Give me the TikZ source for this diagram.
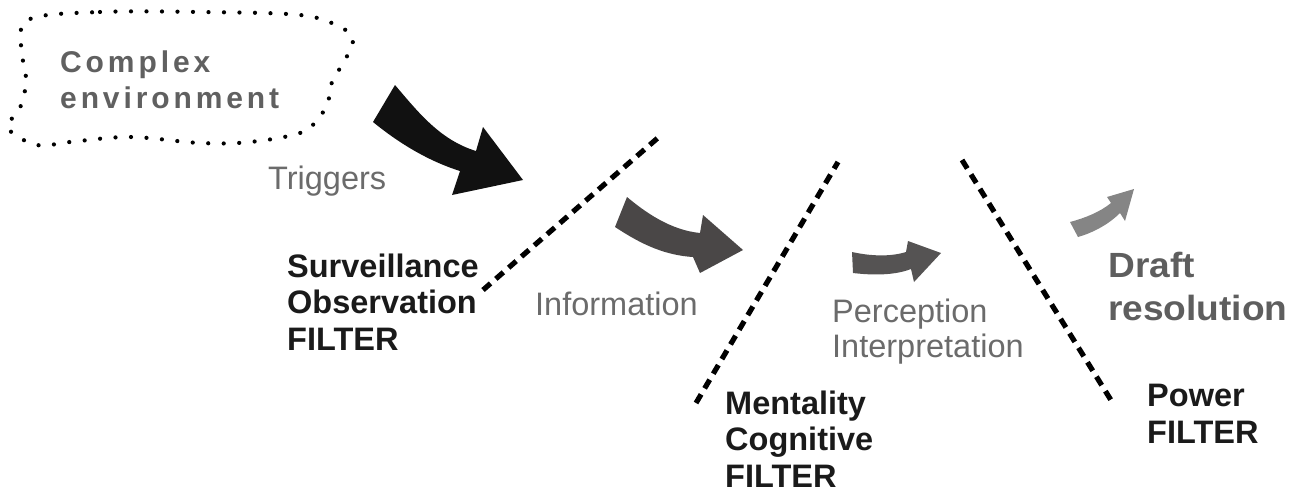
\documentclass[tikz,border=0pt]{standalone}
\usepackage{fontspec}
\setmainfont{Liberation Sans}
\newfontfamily\envfont[LetterSpace=13]{Liberation Sans}
\newfontfamily\draftfont[FakeStretch=1.06]{Liberation Sans}
\definecolor{envgray}{HTML}{606060}
\definecolor{flowgray}{HTML}{6B6B6B}
\definecolor{draftgray}{HTML}{5E5E5E}
\definecolor{filtertext}{HTML}{1A1A1A}
\definecolor{arrowA}{HTML}{111111}
\definecolor{arrowB}{HTML}{4A4747}
\definecolor{arrowC}{HTML}{555353}
\definecolor{arrowD}{HTML}{858585}

\begin{document}
\begin{tikzpicture}[x=1pt,y=-1pt,
  every node/.style={inner sep=0pt,anchor=base west,align=left},
  filterlbl/.style={font=\bfseries\fontsize{32.5}{36.5}\selectfont,text=filtertext},
  flowlbl/.style={font=\fontsize{32.5}{35}\selectfont,text=flowgray},
  filterline/.style={line width=5.2pt,dash pattern=on 10pt off 7pt},
  cloudline/.style={line width=4.2pt,line cap=round,dash pattern=on 0pt off 15.5pt}]
  \useasboundingbox (0,0) rectangle (1297,493);
  % complex environment
  \draw[cloudline] plot[smooth cycle,tension=0.6] coordinates {(30,19) (100,12) (200,12) (300,15) (340,27)
    (353,40) (345,60) (332,82) (328,102) (318,119) (300,133) (250,142) (200,143) (130,137) (70,142)
    (37,145) (8,128) (20,108) (26,80) (21,45)};
  \node[font=\envfont\bfseries\fontsize{30}{36}\selectfont,text=envgray] (env) at (60,108) {Complex\\environment};
  \node[flowlbl] (trig) at (268,189) {Triggers};
  % filters
  \coordinate (f1a) at (483,290); \coordinate (f1b) at (660,136);
  \coordinate (f2a) at (696,403); \coordinate (f2b) at (838,162);
  \coordinate (f3a) at (962,160); \coordinate (f3b) at (1114,405);
  \draw[filterline] (f1a) -- (f1b);
  \draw[filterline] (f2a) -- (f2b);
  \draw[filterline] (f3a) -- (f3b);
  \node[filterlbl] (surv) at (287,350) {Surveillance\\Observation\\FILTER};
  \node[flowlbl] (info) at (535,315) {Information};
  \node[filterlbl] (ment) at (725,487) {Mentality\\Cognitive\\FILTER};
  \node[flowlbl] (perc) at (832,357) {Perception\\Interpretation};
  \node[filterlbl] (power) at (1147,443) {Power\\FILTER};
  \node[font=\draftfont\bfseries\fontsize{35}{43}\selectfont,text=draftgray] (draft) at (1108,320) {Draft\\resolution};
  % block arrows
  \fill[arrowA] (395,85) .. controls (418,112) and (440,140) .. (476,151) -- (483,127) -- (523,180)
    -- (452,195) -- (460,171) .. controls (425,160) and (395,140) .. (373,122) -- cycle;
  \fill[arrowB] (627,197) .. controls (645,212) and (670,230) .. (700,233) -- (703,215) -- (743,250)
    -- (700,273) -- (693,257) .. controls (660,255) and (635,240) .. (615,227) -- cycle;
  \fill[arrowC] (852,252) .. controls (870,256) and (890,257) .. (906,252) -- (908,241) -- (941,253)
    -- (914,282) -- (911,269) .. controls (893,276) and (870,275) .. (853,273) -- cycle;
  \fill[arrowD] (1070,222) .. controls (1085,218) and (1100,212) .. (1111,203) -- (1107,197) -- (1134,189)
    -- (1125,221) -- (1120,213) .. controls (1108,225) and (1092,233) .. (1078,237) -- cycle;
\end{tikzpicture}
\end{document}
